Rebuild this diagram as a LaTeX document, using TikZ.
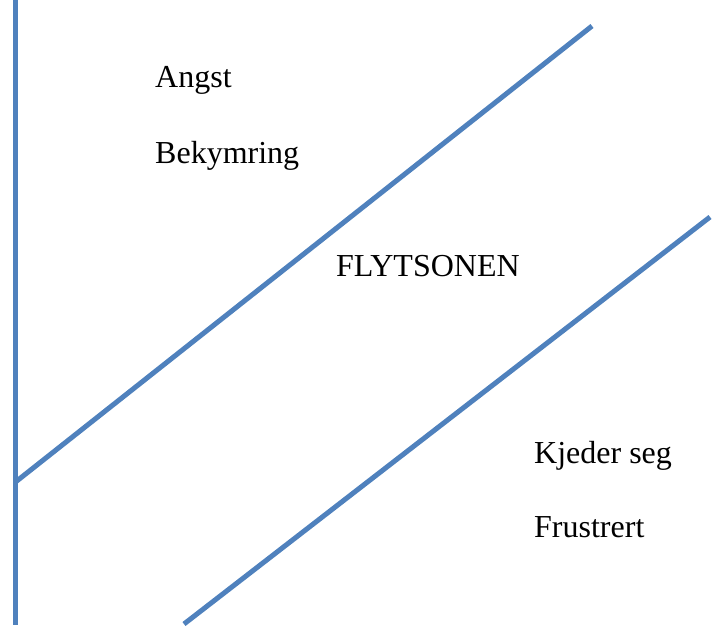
\documentclass[tikz,border=0pt]{standalone}
\usepackage{fontspec}
\setmainfont{Liberation Serif}
\definecolor{lineblue}{HTML}{4F81BD}
\begin{document}
\begin{tikzpicture}[x=1pt,y=-1pt,
  zone/.style={draw=lineblue,line width=5pt},
  lbl/.style={anchor=base west,inner sep=0pt,font=\fontsize{32}{36}\selectfont}]
\useasboundingbox (0,0) rectangle (715,630);
\coordinate (vtop) at (15.5,0);
\coordinate (vbot) at (15.5,625);
\coordinate (a1) at (15.5,482);
\coordinate (a2) at (592,26);
\coordinate (b1) at (184,624);
\coordinate (b2) at (710,217);
\draw[zone] (vtop) -- (vbot);
\draw[zone] (a1) -- (a2);
\draw[zone] (b1) -- (b2);
\node[lbl] (angst) at (155,87) {Angst};
\node[lbl] (bek) at (155,163) {Bekymring};
\node[lbl] (fly) at (336,276) {FLYTSONEN};
\node[lbl] (kje) at (534,463) {Kjeder seg};
\node[lbl] (fru) at (534,537) {Frustrert};
\end{tikzpicture}
\end{document}
